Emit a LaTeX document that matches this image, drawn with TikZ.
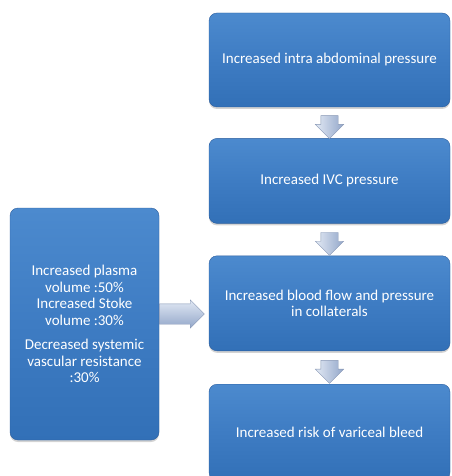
\documentclass[tikz,border=0pt]{standalone}
\usepackage{fontspec}
\setmainfont{Carlito}
\usetikzlibrary{shapes,arrows,positioning,shadows}

\tikzset{
	bluebox/.style={draw=boxedge,rounded corners=8pt,top color=boxtop,bottom color=boxbot,middle color=boxmid,text=white,align=center,minimum width=241pt,font=\fontsize{15}{16.5}\selectfont,drop shadow={opacity=0.35,shadow xshift=0pt,shadow yshift=-2pt}},
	blockarrow/.style={single arrow,draw=arrowedge,thin,inner xsep=0pt,single arrow head indent=0pt,top color=arrowlight,bottom color=arrowdark}
}
\definecolor{boxtop}{HTML}{4C8ACE}
\definecolor{boxmid}{HTML}{3E7CC3}
\definecolor{boxbot}{HTML}{3270B7}
\definecolor{boxedge}{HTML}{2C5E9E}
\definecolor{arrowlight}{HTML}{E2E9F4}
\definecolor{arrowdark}{HTML}{92A6C9}
\definecolor{arrowedge}{HTML}{8595B3}

\begin{document}
\begin{tikzpicture}
	\useasboundingbox (0,0) rectangle (451pt,-476pt);
	\begin{scope}
		\clip (0,0) rectangle (451pt,-476pt);
		% right column
		\node[bluebox,minimum height=94pt] (B1) at (329.5pt,-60pt) {Increased intra abdominal pressure};
		\node[bluebox,minimum height=85pt,below=31pt of B1] (B2) {Increased IVC pressure};
		\node[bluebox,minimum height=95pt,below=32pt of B2] (B3) {Increased blood flow and pressure\\in collaterals};
		\node[bluebox,minimum height=96pt,below=33pt of B3] (B4) {Increased risk of variceal bleed};
		% left box
		\node[bluebox,minimum width=149pt,minimum height=232pt] (L1) at (84.5pt,-324pt) {Increased plasma\\volume :50\%\\Increased Stoke\\volume :30\%\\[8pt]Decreased systemic\\vascular resistance\\:30\%};
	\end{scope}
	
	\foreach \a/\b in {B1/B2,B2/B3,B3/B4}
		\path (\a.south) -- node[blockarrow,sloped,allow upside down,inner ysep=8.5pt,minimum height=23pt,single arrow head extend=5.5pt,shading angle=90]{} (\b.north);
	
	\node[blockarrow,anchor=tail,inner ysep=10pt,minimum height=45pt,single arrow head extend=4pt] (A4) at ([yshift=10pt]L1.east) {};
\end{tikzpicture}
\end{document}
